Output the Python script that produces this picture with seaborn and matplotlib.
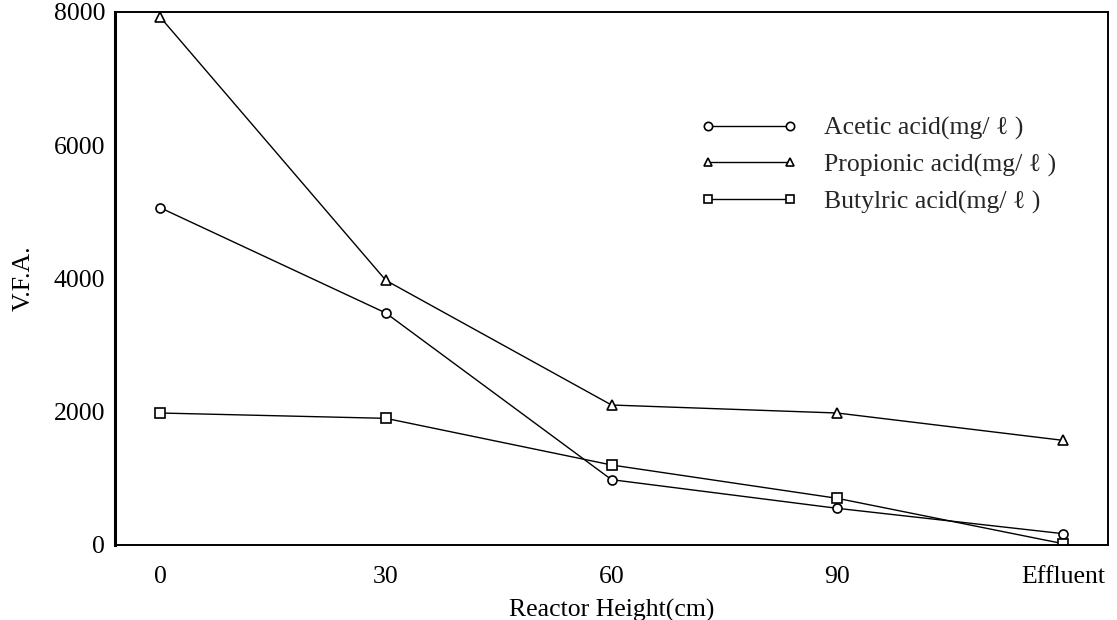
import matplotlib
matplotlib.use("Agg")
import matplotlib.pyplot as plt
import seaborn as sns
import pandas as pd
from matplotlib.lines import Line2D

heights = ["0", "30", "60", "90", "Effluent"]
acetic = [5060, 3480, 980, 550, 170]
propionic = [7920, 3970, 2100, 1980, 1570]
butyric = [1980, 1900, 1200, 700, 20]
series_names = ["Acetic acid(mg/ ℓ )", "Propionic acid(mg/ ℓ )", "Butylric acid(mg/ ℓ )"]
markers = ["o", "^", "s"]
y_ticks = [0, 2000, 4000, 6000, 8000]

sns.set_style("white")
plt.rcParams["font.family"] = ["Liberation Serif", "DejaVu Serif"]
FS = 18.5

fig = plt.figure(figsize=(11.17, 6.2), dpi=100)
ax = fig.add_axes([0.103, 0.121, 0.889, 0.86])

idx = list(range(len(heights)))
handles = []
for vals, name, m in zip([acetic, propionic, butyric], series_names, markers):
    df = pd.DataFrame({"x": idx, "y": vals})
    sns.lineplot(data=df, x="x", y="y", ax=ax, color="black", linewidth=1.0,
                 marker=m, markersize=6.5, markerfacecolor="white",
                 markeredgecolor="black", markeredgewidth=1.2)
    handles.append(Line2D([], [], color="black", linewidth=1.0, marker=m,
                          markersize=6, markerfacecolor="white",
                          markeredgecolor="black", markeredgewidth=1.2))

ax.set_xlim(-0.2, 4.2)
ax.set_ylim(0, 8000)
ax.set_xticks(idx)
ax.set_xticklabels(heights)
ax.set_yticks(y_ticks)
ax.set_yticklabels([str(t) for t in y_ticks])
ax.tick_params(axis="x", direction="in", length=4, width=1, labelsize=FS, pad=15, color="black")
ax.tick_params(axis="y", direction="out", length=4, width=1, labelsize=FS, pad=3, color="black")
for t in ax.get_xticklabels() + ax.get_yticklabels():
    t.set_color("black")

for s in ["top", "right", "bottom"]:
    ax.spines[s].set_linewidth(1.4)
    ax.spines[s].set_color("black")
ax.spines["left"].set_linewidth(2.2)
ax.spines["left"].set_color("black")

ax.set_xlabel("Reactor Height(cm)", fontsize=FS, color="black", labelpad=8)
ax.set_ylabel("V.F.A.", fontsize=FS, color="black", labelpad=14)

ax.legend(handles, series_names, numpoints=2, frameon=False, fontsize=FS,
          loc="upper left", bbox_to_anchor=(0.627, 0.812),
          bbox_transform=fig.transFigure, handlelength=3.8,
          handletextpad=1.0, labelspacing=0.52, borderpad=0, borderaxespad=0)

fig.savefig("out.png", dpi=100)
